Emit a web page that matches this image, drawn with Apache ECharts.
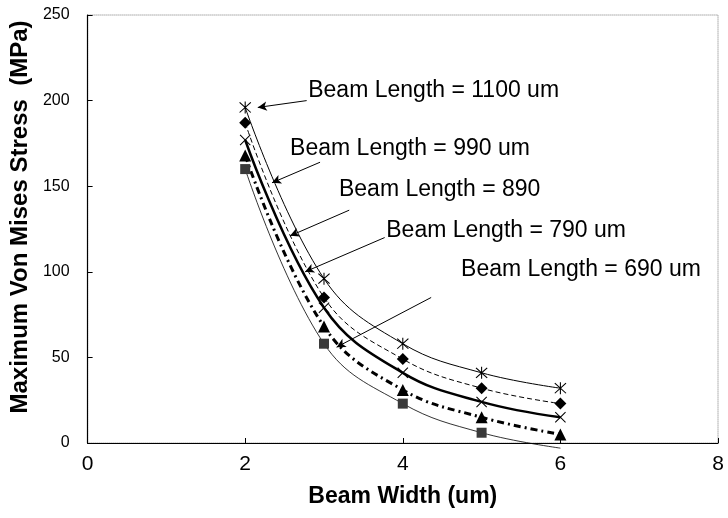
<!DOCTYPE html>
<html>
<head>
<meta charset="utf-8">
<script src="https://cdn.jsdelivr.net/npm/echarts@6/dist/echarts.min.js"></script>
<style>
  html, body { margin: 0; padding: 0; background: #fff; }
  #chart { width: 728px; height: 518px; }
</style>
</head>
<body>
<div id="chart"></div>
<script>
// Beam widths (um) sampled for every beam length
const beamWidths = [2, 3, 4, 5, 6];

// Maximum von Mises stress (MPa) per beam length
const stress1100 = [196, 96, 58, 41, 32];
const stress990  = [187, 85, 49, 32, 23];
const stress890  = [177, 79, 41, 24, 15];
const stress790  = [168, 68, 31, 15, 5];
const stress690  = [160, 58, 23, 6, -3];   // last point falls below the axis

const beamLengthLabels = [
  'Beam Length = 1100 um',
  'Beam Length = 990 um',
  'Beam Length = 890',
  'Beam Length = 790 um',
  'Beam Length = 690 um'
];

// Callout placement in data units: text anchor, arrow tail, arrow head
const callouts = [
  { text: [2.8, 206], from: [2.78, 200], to: [2.16, 196] },
  { text: [2.57, 172], from: [2.95, 164], to: [2.34, 152] },
  { text: [3.19, 148], from: [3.32, 136], to: [2.57, 121] },
  { text: [3.79, 124], from: [3.77, 120], to: [2.76, 100] },
  { text: [4.74, 101], from: [4.36, 85],  to: [3.16, 56] }
];

const asterisk = 'path://M9.2 0L10.8 0L10.8 20L9.2 20Z M1 2.2L2.2 1L19 17.8L17.8 19Z M17.8 1L19 2.2L2.2 19L1 17.8Z';
const crossMark = 'path://M1 2.2L2.2 1L19 17.8L17.8 19Z M17.8 1L19 2.2L2.2 19L1 17.8Z';

const seriesStyles = [
  { values: stress1100, symbol: asterisk, size: 12, color: '#000', width: 1,   type: 'solid' },
  { values: stress990,  symbol: 'diamond', size: 12, color: '#000', width: 1,   type: [5, 3] },
  { values: stress890,  symbol: crossMark, size: 11, color: '#000', width: 2.5, type: 'solid' },
  { values: stress790,  symbol: 'triangle', size: 12, color: '#000', width: 3,  type: [7, 4, 2, 4] },
  { values: stress690,  symbol: 'rect', size: 10, color: '#3a3a3a', width: 0.8, type: 'solid' }
];

const font = '"Liberation Sans", Arial, Helvetica, sans-serif';

const series = seriesStyles.map((s, i) => {
  const c = callouts[i];
  const data = beamWidths.map((w, j) => {
    const pt = { value: [w, s.values[j]] };
    if (s.values[j] < 0) pt.symbol = 'none';
    return pt;
  });
  return {
    type: 'line',
    name: beamLengthLabels[i],
    data: data,
    smooth: 0.4,
    clip: false,
    symbol: s.symbol,
    symbolSize: s.size,
    showAllSymbol: true,
    itemStyle: { color: s.color, borderWidth: 0 },
    lineStyle: { color: '#000', width: s.width, type: s.type },
    emphasis: { disabled: true },
    z: 3 + i,
    markLine: {
      silent: true,
      symbol: ['none', 'arrow'],
      symbolSize: [7, 9],
      lineStyle: { color: '#000', width: 1, type: 'solid' },
      label: { show: false },
      data: [[{ coord: c.from }, { coord: c.to }]]
    },
    markPoint: {
      silent: true,
      symbol: 'circle',
      symbolSize: 0,
      label: {
        show: true,
        position: 'right',
        distance: 0,
        formatter: beamLengthLabels[i],
        color: '#000',
        fontFamily: font,
        fontSize: 23
      },
      data: [{ coord: c.text }]
    }
  };
});

const chart = echarts.init(document.getElementById('chart'));
chart.setOption({
  backgroundColor: '#fff',
  animation: false,
  grid: {
    left: 85, right: 10, top: 15, bottom: 75,
    show: true,
    borderColor: '#777',
    borderWidth: 1,
    borderType: 'dotted'
  },
  xAxis: {
    type: 'value',
    min: 0, max: 8, interval: 2,
    name: 'Beam Width (um)',
    nameLocation: 'middle',
    nameGap: 42,
    nameTextStyle: { fontFamily: font, fontSize: 23, fontWeight: 'bold', color: '#000' },
    axisLine: { show: true, onZero: false, lineStyle: { color: '#000', width: 1.2 } },
    axisTick: { show: true, inside: true, length: 5, lineStyle: { color: '#000' } },
    axisLabel: { fontFamily: font, fontSize: 21, color: '#000', margin: 11 },
    splitLine: { show: false }
  },
  yAxis: {
    type: 'value',
    min: 0, max: 250, interval: 50,
    name: 'Maximum Von Mises Stress  (MPa)',
    nameLocation: 'middle',
    nameGap: 46,
    nameTextStyle: {
      fontFamily: font, fontSize: 24, fontWeight: 'bold', color: '#000',
      padding: [0, 0, 0, 24]
    },
    axisLine: { show: true, onZero: false, lineStyle: { color: '#000', width: 1.2 } },
    axisTick: { show: true, inside: true, length: 5, lineStyle: { color: '#000' } },
    axisLabel: { fontFamily: font, fontSize: 16, color: '#000', margin: 18 },
    splitLine: { show: false }
  },
  series: series
});
</script>
</body>
</html>
